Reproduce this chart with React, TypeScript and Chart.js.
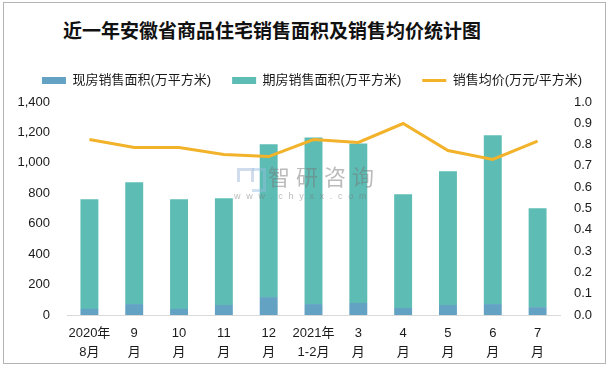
import React, { useEffect, useRef } from "react";
import { Chart, registerables } from "chart.js";

Chart.register(...registerables);

const TITLE = "近一年安徽省商品住宅销售面积及销售均价统计图";
const categories: string[][] = [
  ["2020年", "8月"], ["9", "月"], ["10", "月"], ["11", "月"], ["12", "月"],
  ["2021年", "1-2月"], ["3", "月"], ["4", "月"], ["5", "月"], ["6", "月"], ["7", "月"],
];
const spotArea = [40, 72, 40, 66, 118, 72, 79, 46, 66, 72, 52];
const futureArea = [721, 801, 721, 702, 1004, 1094, 1049, 748, 879, 1109, 650];
const avgPrice = [0.824, 0.786, 0.786, 0.754, 0.744, 0.824, 0.81, 0.899, 0.772, 0.73, 0.816];
const seriesNames = ["现房销售面积(万平方米)", "期房销售面积(万平方米)", "销售均价(万元/平方米)"];

const FONT = '"Liberation Sans", "Noto Sans CJK SC", sans-serif';
const TEXT = "#1a1a1a";

export default function App() {
  const ref = useRef<HTMLCanvasElement>(null);
  useEffect(() => {
    if (!ref.current) return;
    const chart = new Chart(ref.current, {
      type: "bar",
      data: {
        labels: categories as any,
        datasets: [
          {
            type: "bar",
            label: seriesNames[0],
            data: spotArea,
            backgroundColor: "#63a2c3",
            yAxisID: "y",
            stack: "s",
            order: 1,
            barPercentage: 0.4,
            categoryPercentage: 1,
          },
          {
            type: "bar",
            label: seriesNames[1],
            data: futureArea,
            backgroundColor: "#5dbcb4",
            yAxisID: "y",
            stack: "s",
            order: 1,
            barPercentage: 0.4,
            categoryPercentage: 1,
          },
          {
            type: "line",
            label: seriesNames[2],
            data: avgPrice,
            borderColor: "#f2b22a",
            backgroundColor: "#f2b22a",
            borderWidth: 3,
            pointRadius: 0,
            tension: 0,
            yAxisID: "y1",
            order: 0,
          } as any,
        ],
      },
      options: {
        animation: false,
        responsive: false,
        maintainAspectRatio: false,
        layout: { padding: { left: 11, right: 0, top: 53, bottom: 0 } },
        plugins: {
          title: { display: false },
          tooltip: { enabled: false },
          legend: {
            display: true,
            position: "top",
            labels: {
              usePointStyle: true,
              pointStyleWidth: 24,
              boxHeight: 7,
              padding: 21,
              color: TEXT,
              font: { family: FONT, size: 13 },
              sort: (a: any, b: any) => a.datasetIndex - b.datasetIndex,
              generateLabels: (c: any) => {
                const items = Chart.defaults.plugins.legend.labels.generateLabels(c);
                return items.map((it: any) => {
                  if (it.datasetIndex === 2) {
                    return { ...it, pointStyle: "line", lineWidth: 3, strokeStyle: "#f2b22a", fillStyle: "#f2b22a" };
                  }
                  return { ...it, pointStyle: "rect", lineWidth: 0 };
                });
              },
            },
          },
        },
        scales: {
          x: {
            stacked: true,
            grid: { display: false, drawTicks: false },
            border: { display: true, color: "#d9d9d9", width: 1 },
            ticks: {
              color: TEXT,
              font: { family: FONT, size: 13, lineHeight: 19 / 13 },
              padding: 9,
              maxRotation: 0,
              autoSkip: false,
            },
            afterFit: (s: any) => { s.height = 55; },
          },
          xTop: {
            type: "category",
            position: "top",
            display: true,
            grid: { display: false, drawTicks: false },
            border: { display: false },
            ticks: { display: false },
            afterFit: (s: any) => { s.height = 5; },
          } as any,
          y: {
            stacked: true,
            position: "left",
            min: 0,
            max: 1400,
            grid: { display: false, drawTicks: false },
            border: { display: false },
            ticks: {
              stepSize: 200,
              autoSkip: false,
              color: TEXT,
              padding: 17,
              font: { family: FONT, size: 13 },
              callback: (v: any) => Number(v).toLocaleString("en-US"),
            },
            afterFit: (s: any) => { s.width = 56; },
          },
          y1: {
            position: "right",
            min: 0,
            max: 1.0,
            grid: { display: false, drawTicks: false },
            border: { display: false },
            ticks: {
              stepSize: 0.1,
              autoSkip: false,
              color: TEXT,
              padding: 14,
              font: { family: FONT, size: 13 },
              callback: (v: any) => Number(v).toFixed(1),
            },
            afterFit: (s: any) => { s.width = 53; },
          },
        },
      },
    });
    return () => chart.destroy();
  }, []);

  const wm = "rgba(120,120,120,0.5)";
  return (
    <div style={{ position: "fixed", left: 0, top: 0, width: 613, height: 370, background: "#fff", overflow: "hidden" }}>
      <div style={{ position: "absolute", left: 3, top: 2, width: 601, height: 360, border: "1px solid #b4b4b4" }} />
      <div
        style={{
          position: "absolute", left: 63, top: 19, whiteSpace: "nowrap",
          fontFamily: '"Noto Sans CJK SC", sans-serif', fontWeight: 700, fontSize: 19,
          lineHeight: "22px", color: "#111",
        }}
      >
        {TITLE}
      </div>
      <canvas ref={ref} width={613} height={370} style={{ position: "absolute", left: 0, top: 0, width: 613, height: 370 }} />
      <div style={{ position: "absolute", left: 237, top: 168, width: 11, height: 11, border: "3px solid rgba(150,175,210,0.45)", borderBottom: "none", pointerEvents: "none" }} />
      <div style={{ position: "absolute", left: 252, top: 168, width: 11, height: 18, border: "3px solid rgba(150,190,225,0.45)", borderLeft: "none", pointerEvents: "none" }} />
      <div
        style={{
          position: "absolute", left: 268, top: 162, whiteSpace: "nowrap", pointerEvents: "none",
          fontFamily: '"Noto Sans CJK SC", sans-serif', fontSize: 22, letterSpacing: 6, lineHeight: "26px",
          color: wm,
        }}
      >
        智研咨询
      </div>
      <div
        style={{
          position: "absolute", left: 234, top: 191, whiteSpace: "nowrap", pointerEvents: "none",
          fontFamily: '"Liberation Sans", sans-serif', fontSize: 9, letterSpacing: 5.7, lineHeight: "11px",
          color: wm,
        }}
      >
        www.chyxx.com
      </div>
    </div>
  );
}
